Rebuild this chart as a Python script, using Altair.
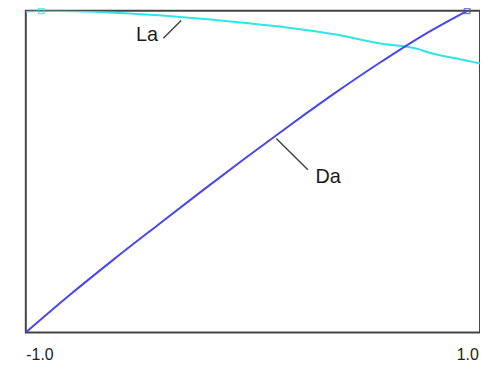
import altair as alt
import pandas as pd

# Da curve (blue)
da_x = [-1.0, -0.8, -0.6, -0.4, -0.2, 0.0, 0.2, 0.4, 0.6, 0.8, 1.0]
da_y = [0.0, 0.117, 0.228, 0.335, 0.441, 0.545, 0.646, 0.744, 0.837, 0.924, 1.0]

# La curve (cyan)
la_x = [-1.0, -0.93, -0.6, -0.3, 0.0, 0.2, 0.4, 0.6, 0.78, 0.8, 1.0, 1.058]
la_y = [0.998, 1.0, 0.994, 0.981, 0.962, 0.947, 0.927, 0.899, 0.881, 0.876, 0.845, 0.836]

# marker points (series maxima)
mk_x = [1.0, -0.93]
mk_y = [1.0, 1.0]
mk_s = ["Da", "La"]

# annotations
lab_text = ["La", "Da"]
lab_x = [-0.451, 0.370]
lab_y = [0.924, 0.482]
lead_x1 = [-0.377, 0.135]
lead_y1 = [0.915, 0.603]
lead_x2 = [-0.296, 0.278]
lead_y2 = [0.970, 0.506]

x_ticks = [-1.0, 1.0]

colors = {"Da": "#4747ee", "La": "#2ee6e6"}

xs = alt.Scale(domain=[-1.0, 1.058], nice=False, zero=False)
ys = alt.Scale(domain=[0.0, 1.0], nice=False, zero=False)

df_da = pd.DataFrame({"x": da_x, "y": da_y})
df_la = pd.DataFrame({"x": la_x, "y": la_y})
df_mk = pd.DataFrame({"x": mk_x, "y": mk_y, "s": mk_s})
df_lab = pd.DataFrame({"t": lab_text, "x": lab_x, "y": lab_y})
df_lead = pd.DataFrame({"x": lead_x1, "y": lead_y1, "x2": lead_x2, "y2": lead_y2})

xaxis = alt.Axis(values=x_ticks, title=None, grid=False, ticks=False, domain=False,
                 labelFont="Liberation Sans", labelFontSize=16, labelColor="#222",
                 labelPadding=14,
                 labelExpr="replace(format(datum.value, '.1f'), '\u2212', '-')")

la_line = alt.Chart(df_la).mark_line(color=colors["La"], strokeWidth=2, clip=True,
                                     interpolate="monotone").encode(
    x=alt.X("x:Q", scale=xs, axis=xaxis),
    y=alt.Y("y:Q", scale=ys, axis=None),
)
da_line = alt.Chart(df_da).mark_line(color=colors["Da"], strokeWidth=2, clip=True,
                                     interpolate="monotone").encode(
    x=alt.X("x:Q", scale=xs),
    y=alt.Y("y:Q", scale=ys),
)
markers = alt.Chart(df_mk).mark_point(shape="square", size=30, filled=False, strokeWidth=1.5).encode(
    x=alt.X("x:Q", scale=xs),
    y=alt.Y("y:Q", scale=ys),
    color=alt.Color("s:N", scale=alt.Scale(domain=list(colors.keys()), range=list(colors.values())), legend=None),
)
leaders = alt.Chart(df_lead).mark_rule(color="#444", strokeWidth=1.5).encode(
    x=alt.X("x:Q", scale=xs), y=alt.Y("y:Q", scale=ys),
    x2="x2:Q", y2="y2:Q",
)
labels = alt.Chart(df_lab).mark_text(font="Liberation Sans", fontSize=20, color="#1a1a1a",
                                     align="center", baseline="middle").encode(
    x=alt.X("x:Q", scale=xs), y=alt.Y("y:Q", scale=ys), text="t:N",
)

chart = alt.layer(la_line, da_line, leaders, labels, markers).properties(
    width=459, height=325,
    padding={"left": 18, "top": 1, "right": 0, "bottom": 30},
    autosize=alt.AutoSizeParams(type="none"),
    background="white",
).configure_view(stroke="#444444", strokeWidth=2)

chart.save("out.html", embed_options={"renderer": "svg", "actions": False})
